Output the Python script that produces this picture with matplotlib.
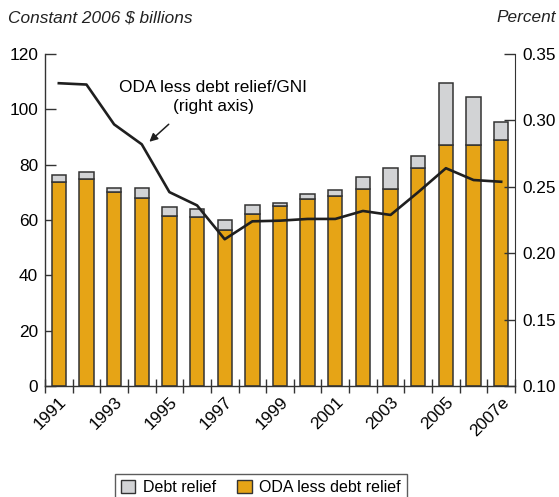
import numpy as np
import matplotlib.pyplot as plt
from matplotlib.patches import Patch

plt.rcParams['font.family'] = ['Liberation Sans', 'DejaVu Sans']

# Datos ------------------------------
years = ["1991", "1992", "1993", "1994", "1995", "1996", "1997", "1998", "1999",
         "2000", "2001", "2002", "2003", "2004", "2005", "2006", "2007e"]
oda_less_debt = [73.7, 74.7, 70.0, 68.1, 61.6, 61.1, 56.4, 62.3, 65.1,
                 67.7, 68.5, 71.3, 71.3, 78.9, 87.1, 87.2, 88.8]
oda_total = [76.1, 77.2, 71.5, 71.6, 64.6, 64.0, 60.0, 65.5, 66.1,
             69.3, 70.8, 75.7, 78.9, 83.3, 109.5, 104.3, 95.5]
debt_relief = [t - o for t, o in zip(oda_total, oda_less_debt)]
ratio_gni = [0.328, 0.327, 0.297, 0.282, 0.246, 0.236, 0.2105, 0.224, 0.2245,
             0.2258, 0.2258, 0.2318, 0.2288, 0.246, 0.264, 0.2551, 0.2538]

naranja = "#E6A416"
gris = "#D2D3D5"
borde = "#333333"
fs = 12.4

fig = plt.figure(figsize=(5.59, 4.97), dpi=100)
ax = fig.add_axes([45/559, 1-386/497, 470/559, 332/497])
x = np.arange(len(years))

ax.bar(x, oda_less_debt, width=0.52, color=naranja, edgecolor=borde, lw=1.1, zorder=2)
ax.bar(x, debt_relief, width=0.52, bottom=oda_less_debt, color=gris,
       edgecolor=borde, lw=1.1, zorder=2)

ax.set_xlim(-0.5, len(years) - 0.5)
ax.set_ylim(0, 120)
ax.set_yticks(range(0, 121, 20))
ax.set_xticks(np.arange(-0.5, len(years)), minor=False)
ax.set_xticklabels([])
ax.set_xticks(x[::2], minor=True)
ax.set_xticklabels([years[i] for i in x[::2]], minor=True, rotation=45,
                   ha="right", va="top", rotation_mode="anchor", fontsize=fs)
ax.tick_params(axis="x", which="major", direction="inout", length=10, width=1, color=borde)
ax.tick_params(axis="x", which="minor", length=0, pad=6)
ax.tick_params(axis="y", direction="in", length=8, width=1, color=borde,
               labelsize=fs, pad=5)
ax.spines["top"].set_visible(False)
ax.spines["right"].set_visible(False)
for s in ["left", "bottom"]:
    ax.spines[s].set_color(borde)
    ax.spines[s].set_linewidth(1)

ax2 = ax.twinx()
ax2.plot(x, ratio_gni, color="#1f1f1f", lw=1.9, zorder=3)
ax2.set_ylim(0.10, 0.35)
ax2.set_yticks([0.10, 0.15, 0.20, 0.25, 0.30, 0.35])
ax2.set_yticklabels(["0.10", "0.15", "0.20", "0.25", "0.30", "0.35"])
ax2.tick_params(axis="y", direction="in", length=8, width=1, color=borde,
                labelsize=fs, pad=5)
ax2.spines["top"].set_visible(False)
ax2.spines["left"].set_visible(False)
ax2.spines["bottom"].set_visible(False)
ax2.spines["right"].set_color(borde)

ax2.annotate("", xy=(3.2, 0.2825), xytext=(4.05, 0.2985),
             arrowprops=dict(arrowstyle="-|>", color="#1f1f1f", lw=1.1,
                             mutation_scale=12))
fig.text(213/559, 1-87/497, "ODA less debt relief/GNI", ha="center", va="center",
         fontsize=fs)
fig.text(213/559, 1-106/497, "(right axis)", ha="center", va="center", fontsize=fs)

fig.text(8/559, 1-18/497, "Constant 2006 $ billions", style="italic",
         ha="left", va="center", fontsize=fs, color="#222222")
fig.text(556/559, 1-18/497, "Percent", style="italic",
         ha="right", va="center", fontsize=fs, color="#222222")

handles = [Patch(facecolor=gris, edgecolor=borde, label="Debt relief"),
           Patch(facecolor=naranja, edgecolor=borde, label="ODA less debt relief")]
leg = fig.legend(handles=handles, loc="upper center", ncol=2,
                 bbox_to_anchor=(261/559, 1-466/497), fontsize=11.5,
                 handlelength=0.9, handleheight=0.9, handletextpad=0.5,
                 columnspacing=1.3, fancybox=False, edgecolor=borde,
                 borderpad=0.35)
leg.get_frame().set_linewidth(1)

fig.savefig("out.png", dpi=100)
